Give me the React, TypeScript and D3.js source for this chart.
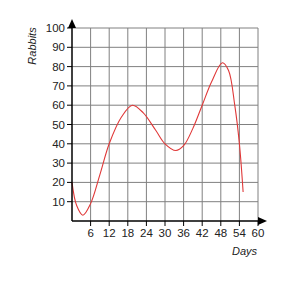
import React from 'react';
import * as d3 from 'd3';

const days = [0, 1.5, 3.5, 6, 9, 12, 16, 19.5, 23, 27, 30, 33.5, 36, 39, 42, 45, 48.5, 50.5, 52.5, 54, 55.2];
const rabbits = [20, 8, 3, 9, 24, 40, 54, 60, 56, 47, 40, 36.5, 39, 48, 60, 72, 82, 78, 60, 40, 15];
const xTicks = [6, 12, 18, 24, 30, 36, 42, 48, 54, 60];
const yTicks = [10, 20, 30, 40, 50, 60, 70, 80, 90, 100];

function App() {
  const left = 72, right = 258, top = 28, bottom = 221;
  const x = d3.scaleLinear().domain([0, 60]).range([left, right]);
  const y = d3.scaleLinear().domain([0, 100]).range([bottom, top]);

  const pts = days.map((d, i) => [d, rabbits[i]] as [number, number]);
  const line = d3.line<[number, number]>()
    .x(d => x(d[0]))
    .y(d => y(d[1]))
    .curve(d3.curveCatmullRom.alpha(0.5));

  const font = 'Liberation Sans, Arial, sans-serif';

  return (
    <svg width={288} height={288} style={{ position: 'absolute', left: 0, top: 0, background: '#fff' }}>
      {/* grid */}
      {xTicks.map(t => (
        <line key={'gx' + t} x1={x(t)} x2={x(t)} y1={top} y2={bottom} stroke="#808080" strokeWidth={1} />
      ))}
      {yTicks.map(t => (
        <line key={'gy' + t} x1={left} x2={right} y1={y(t)} y2={y(t)} stroke="#808080" strokeWidth={1} />
      ))}

      {/* curve */}
      <path d={line(pts) || ''} fill="none" stroke="#e03838" strokeWidth={1.1} />

      {/* axes */}
      <line x1={left} x2={left} y1={top - 4} y2={bottom} stroke="#000" strokeWidth={1.5} />
      <line x1={left} x2={right + 2} y1={bottom} y2={bottom} stroke="#000" strokeWidth={1.5} />
      <path d={`M${left},${top - 9} L${left - 4},${top} L${left + 4},${top} Z`} fill="#000" />
      <path d={`M${right + 9},${bottom} L${right},${bottom - 4} L${right},${bottom + 4} Z`} fill="#000" />

      {/* ticks */}
      {yTicks.map(t => (
        <g key={'ty' + t}>
          <line x1={left - 5} x2={left} y1={y(t)} y2={y(t)} stroke="#000" strokeWidth={1} />
          <text x={left - 7} y={y(t) + 4} textAnchor="end" fontFamily={font} fontSize={11.5} fill="#222">{t}</text>
        </g>
      ))}
      {xTicks.map(t => (
        <g key={'tx' + t}>
          <line x1={x(t)} x2={x(t)} y1={bottom} y2={bottom + 5} stroke="#000" strokeWidth={1} />
          <text x={x(t)} y={bottom + 16} textAnchor="middle" fontFamily={font} fontSize={11.5} fill="#222">{t}</text>
        </g>
      ))}

      {/* axis titles */}
      <text transform="translate(36,46) rotate(-90)" textAnchor="middle" fontFamily={font} fontSize={11} fontStyle="italic" fill="#222">Rabbits</text>
      <text x={257} y={255} textAnchor="end" fontFamily={font} fontSize={11} fontStyle="italic" fill="#222">Days</text>
    </svg>
  );
}

export default App;
